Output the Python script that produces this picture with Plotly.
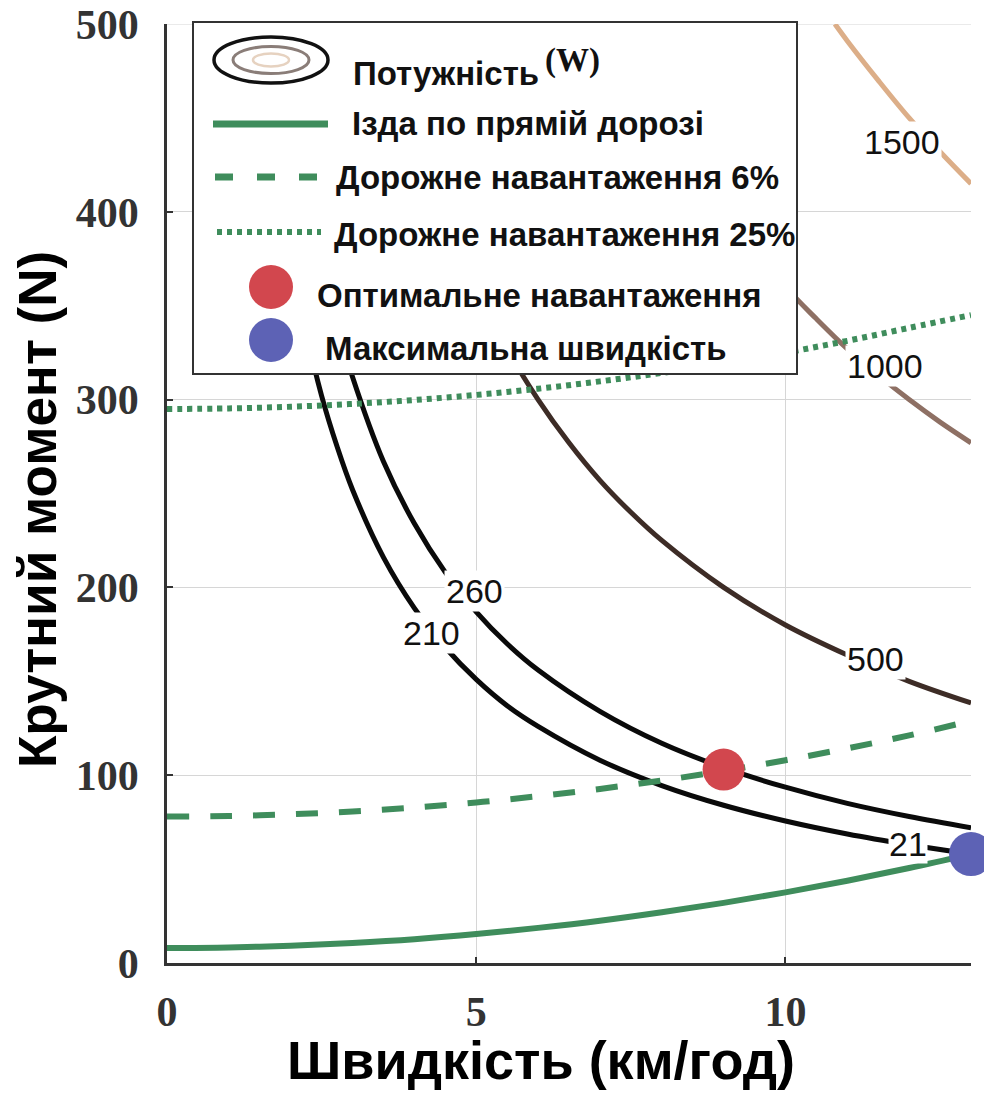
import plotly.graph_objects as go

# ---------------- data ----------------
# iso-power curves, torque (N) vs speed (km/h)
p210_x = [1.6, 1.8, 2.0, 2.25, 2.5, 2.75, 3.0, 3.5, 4.0, 4.5, 5.0, 5.5, 6.0, 7.0, 8.0, 9.0, 10.0, 11.0, 12.0, 12.8]
p210_y = [472, 420, 378, 336, 302, 275, 252, 216, 189, 168, 151, 137, 126, 108, 94.5, 84, 75.6, 68.7, 63, 59]
p260_x = [1.9, 2.0, 2.25, 2.5, 2.75, 3.0, 3.5, 4.0, 4.5, 5.0, 5.5, 6.0, 7.0, 8.0, 9.0, 10.0, 11.0, 12.0, 13.0]
p260_y = [492, 468, 416, 374, 340, 312, 267, 234, 208, 187, 170, 156, 134, 117, 104, 93.6, 85, 78, 72]
p500_x = [3.6, 4.0, 4.5, 5.0, 5.5, 6.0, 6.5, 7.0, 7.5, 8.0, 9.0, 10.0, 11.0, 12.0, 13.0]
p500_y = [500, 450, 400, 360, 327, 300, 277, 257, 240, 225, 200, 180, 164, 150, 138.5]
p1000_x = [7.2, 8.0, 9.0, 10.0, 10.5, 11.0, 11.5, 12.0, 12.5, 13.0]
p1000_y = [500, 450, 400, 360, 343, 327, 313, 300, 288, 277]
p1500_x = [10.8, 11.0, 11.5, 12.0, 12.5, 13.0]
p1500_y = [500, 491, 470, 450, 432, 415]

# road-load curves
road_x = [0, 1, 2, 3, 4, 5, 6, 7, 8, 9, 10, 11, 12, 13]
flat_y = [8, 8.3, 9.2, 10.7, 12.7, 15.4, 18.7, 22.5, 27, 32, 37.6, 43.8, 50.6, 58]
grade6_y = [78, 78.3, 79.2, 80.7, 82.8, 85.5, 88.8, 92.7, 97.2, 102.3, 108, 114.3, 121.2, 129]
grade25_y = [295, 295.3, 296.2, 297.7, 299.8, 302.5, 305.8, 309.7, 314.2, 319.3, 325, 331.3, 338.2, 345]

opt_x, opt_y = [9.0], [103]
max_x, max_y = [13.0], [58]

power_levels = ["210", "260", "500", "1000", "1500", "21"]
label_x = [4.27, 4.98, 11.46, 11.61, 11.88, 11.98]
label_y = [175.7, 198, 162, 318, 437, 63.5]

x_ticks = [0, 5, 10]
y_ticks = [0, 100, 200, 300, 400, 500]

legend_texts = ["Потужність", "Ізда по прямій дорозі", "Дорожне навантаження 6%",
                "Дорожне навантаження 25%", "Оптимальне навантаження", "Максимальна швидкість"]

# ---------------- style ----------------
GREEN = "#3f8d5c"
RED = "#d2474e"
BLUE = "#5d62b5"
C210 = "#0a0a0a"
C500 = "#3d2c26"
C1000 = "#8e7064"
C1500 = "#dcae88"
GRID = "#d6d6d6"

OFF = 8                      # page body margin of the html page
W, H = 992 - OFF, 1095 - OFF
L, R, T, B = 167 - OFF, 21, 24 - OFF, 132
PW, PH = W - L - R, H - T - B


def px(xp):   # page pixel -> paper x
    return (xp - OFF - L) / PW


def py(yp):   # page pixel -> paper y
    return (H - B - (yp - OFF)) / PH


fig = go.Figure()

for xs, ys, col in [(p1500_x, p1500_y, C1500), (p1000_x, p1000_y, C1000),
                    (p500_x, p500_y, C500), (p260_x, p260_y, C210), (p210_x, p210_y, C210)]:
    fig.add_trace(go.Scatter(x=xs, y=ys, mode="lines", line=dict(color=col, width=5, shape="spline"),
                             showlegend=False, hoverinfo="skip"))

annotations = []
for t, lx, ly in zip(power_levels, label_x, label_y):
    annotations.append(dict(x=lx, y=ly, xref="x", yref="y", text=t, showarrow=False,
                            font=dict(family="Liberation Sans, Arial", size=34, color="#111"),
                            bgcolor="white", borderpad=0 if t == "21" else 1))

fig.add_trace(go.Scatter(x=road_x, y=flat_y, mode="lines", line=dict(color=GREEN, width=6, shape="spline"),
                         showlegend=False))
fig.add_trace(go.Scatter(x=road_x, y=grade6_y, mode="lines",
                         line=dict(color=GREEN, width=6, shape="spline", dash="22px,21px"), showlegend=False))
fig.add_trace(go.Scatter(x=road_x, y=grade25_y, mode="lines",
                         line=dict(color=GREEN, width=6, shape="spline", dash="5px,5px"), showlegend=False))

fig.add_trace(go.Scatter(x=opt_x, y=opt_y, mode="markers", marker=dict(color=RED, size=42),
                         showlegend=False, cliponaxis=False))
fig.add_trace(go.Scatter(x=max_x, y=max_y, mode="markers", marker=dict(color=BLUE, size=44),
                         showlegend=False, cliponaxis=False))

shapes = []
# top grid line (plotly drops the grid line lying on the plot edge)
shapes.append(dict(type="line", xref="x", yref="y", x0=x_ticks[0], x1=13, y0=y_ticks[-1], y1=y_ticks[-1],
                   line=dict(color=GRID, width=1), layer="below"))

# ---------------- hand-drawn legend ----------------
shapes.append(dict(type="rect", xref="paper", yref="paper", x0=px(193), x1=px(797), y0=py(374), y1=py(22),
                   fillcolor="white", line=dict(color="#333", width=2), layer="above"))
for (rx, ry, col, lw) in [(57, 23, "#111", 3.5), (38, 13.5, "#8a7d78", 3), (18, 6.5, "#e6d2c0", 2.5)]:
    shapes.append(dict(type="circle", xref="paper", yref="paper", x0=px(271 - rx), x1=px(271 + rx),
                       y0=py(60 + ry), y1=py(60 - ry), line=dict(color=col, width=lw), layer="above"))
shapes.append(dict(type="line", xref="paper", yref="paper", x0=px(213), x1=px(328), y0=py(124), y1=py(124),
                   line=dict(color=GREEN, width=7), layer="above"))
shapes.append(dict(type="line", xref="paper", yref="paper", x0=px(215), x1=px(334), y0=py(177), y1=py(177),
                   line=dict(color=GREEN, width=7, dash="18px,24px"), layer="above"))
shapes.append(dict(type="line", xref="paper", yref="paper", x0=px(217), x1=px(321), y0=py(232), y1=py(232),
                   line=dict(color=GREEN, width=6, dash="5px,5px"), layer="above"))
for cy, col in [(287, RED), (340, BLUE)]:
    shapes.append(dict(type="circle", xref="paper", yref="paper", x0=px(249), x1=px(293),
                       y0=py(cy + 22), y1=py(cy - 22), fillcolor=col, line=dict(color=col, width=0),
                       layer="above"))

leg_pos = [(351, 74), (350, 123), (334, 177), (332, 234), (315, 295), (323, 348)]
for t, (lx, ly) in zip(legend_texts, leg_pos):
    annotations.append(dict(x=px(lx), y=py(ly), xref="paper", yref="paper", text=t, showarrow=False,
                            xanchor="left", yanchor="middle",
                            font=dict(family="Liberation Sans, Arial", size=33, color="#111", weight="bold")))
annotations.append(dict(x=px(572), y=py(61), xref="paper", yref="paper", text="(W)", showarrow=False,
                        xanchor="center", yanchor="middle",
                        font=dict(family="Liberation Serif, Times New Roman", size=33, color="#111",
                                  weight="bold")))

# axis titles
annotations.append(dict(x=px(541), y=py(1060), xref="paper", yref="paper", text="Швидкість (км/год)",
                        showarrow=False, xanchor="center", yanchor="middle",
                        font=dict(family="Liberation Sans, Arial", size=54, color="#000", weight="bold")))
annotations.append(dict(x=px(37), y=py(510), xref="paper", yref="paper", text="Крутний момент (N)",
                        showarrow=False, xanchor="center", yanchor="middle", textangle=-90,
                        font=dict(family="Liberation Sans, Arial", size=53, color="#000", weight="bold")))

tickfont = dict(family="Liberation Serif, Times New Roman", size=42, color="#333", weight="bold")
fig.update_layout(
    width=W, height=H,
    margin=dict(l=L, r=R, t=T, b=B, autoexpand=False),
    paper_bgcolor="white", plot_bgcolor="white",
    showlegend=False,
    shapes=shapes,
    annotations=annotations,
    xaxis=dict(range=[0, 13], tickvals=x_ticks, ticktext=[str(v) for v in x_ticks], automargin=False,
               showgrid=True, gridcolor=GRID, gridwidth=1, zeroline=False, ticklabeloverflow="allow",
               showline=True, linecolor="#333", linewidth=2.5, ticks="inside", ticklen=6,
               tickcolor="#333", tickwidth=2, tickfont=tickfont, ticklabelstandoff=10),
    yaxis=dict(range=[0, 500], tickvals=y_ticks, ticktext=[str(v) for v in y_ticks], automargin=False,
               showgrid=True, gridcolor=GRID, gridwidth=1, zeroline=False, ticklabeloverflow="allow",
               showline=True, linecolor="#333", linewidth=2.5, ticks="inside", ticklen=6,
               tickcolor="#333", tickwidth=2, tickfont=tickfont, ticklabelstandoff=17),
)

fig.write_html("out.html")
